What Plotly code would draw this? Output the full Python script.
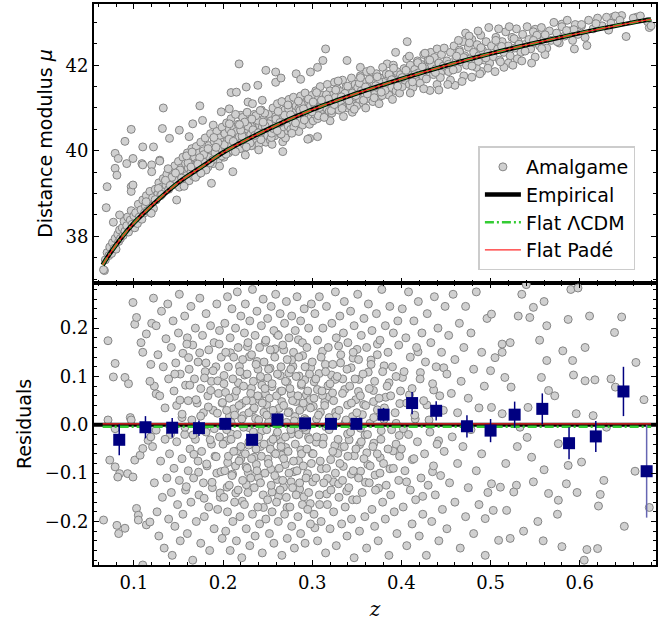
import plotly.graph_objects as go

# ---------------- data ----------------
curve_z = [0.065, 0.07, 0.08, 0.09, 0.10, 0.12, 0.15, 0.18, 0.20, 0.25, 0.30,
           0.35, 0.40, 0.45, 0.50, 0.55, 0.60, 0.65, 0.68]
mu_empirical = [37.33, 37.50, 37.80, 38.07, 38.31, 38.72, 39.26, 39.68, 39.96, 40.50,
                40.96, 41.34, 41.68, 41.99, 42.27, 42.52, 42.75, 42.96, 43.07]
mu_lcdm = [37.33, 37.50, 37.80, 38.07, 38.31, 38.72, 39.26, 39.68, 39.96, 40.50,
           40.96, 41.34, 41.68, 41.99, 42.27, 42.52, 42.75, 42.96, 43.07]
mu_pade = [37.33, 37.50, 37.80, 38.07, 38.31, 38.72, 39.26, 39.68, 39.96, 40.50,
           40.96, 41.34, 41.68, 41.99, 42.27, 42.52, 42.75, 42.96, 43.07]

resid_zero_z = [0.0553, 0.6855]
resid_zero_r = [0.0, 0.0]
resid_model_z = [0.065, 0.68]
resid_lcdm_r = [-0.004, -0.004]
resid_pade_r = [0.002, 0.002]

bin_z = [0.0836, 0.113, 0.143, 0.173, 0.2025, 0.2326, 0.261, 0.292, 0.321, 0.3495,
         0.380, 0.412, 0.439, 0.4735, 0.500, 0.527, 0.558, 0.588, 0.618, 0.649, 0.675]
bin_r = [-0.031, -0.005, -0.006, -0.007, 0.002, -0.031, 0.011, 0.003, 0.002, 0.002,
         0.021, 0.045, 0.029, -0.003, -0.012, 0.021, 0.033, -0.038, -0.024, 0.069, -0.096]
bin_err = [0.032, 0.023, 0.020, 0.016, 0.012, 0.011, 0.012, 0.011, 0.010, 0.011,
           0.014, 0.023, 0.020, 0.023, 0.024, 0.027, 0.032, 0.033, 0.032, 0.051, 0.096]

top_outliers = [
    (0.070, 39.16), (0.069, 38.67), (0.067, 37.20), (0.077, 38.33), (0.079, 39.59), (0.081, 39.43),
    (0.079, 39.94), (0.0825, 39.82), (0.092, 39.70), (0.090, 40.22), (0.097, 40.50), (0.097, 39.16),
    (0.099, 39.82), (0.084, 38.50), (0.110, 40.09), (0.122, 40.09), (0.109, 39.70), (0.120, 39.67),
    (0.129, 39.78), (0.132, 40.52), (0.133, 41.00), (0.140, 40.29), (0.151, 40.48), (0.162, 40.33),
    (0.174, 41.05), (0.177, 40.71), (0.166, 40.63), (0.189, 40.60), (0.198, 40.91), (0.207, 40.98),
    (0.209, 41.36), (0.215, 41.37), (0.218, 42.03), (0.226, 41.49), (0.228, 41.14), (0.233, 41.10),
    (0.239, 41.53), (0.244, 41.18), (0.248, 41.88), (0.259, 41.84), (0.259, 41.60), (0.265, 41.70),
    (0.282, 41.80), (0.287, 41.67), (0.298, 41.84), (0.306, 41.95), (0.315, 42.38), (0.312, 42.11),
    (0.267, 39.98), (0.211, 39.51), (0.187, 39.24), (0.306, 40.33), (0.297, 40.29), (0.4065, 42.55),
    (0.3935, 42.30), (0.339, 42.11), (0.354, 41.95), (0.384, 42.03), (0.498, 42.88), (0.550, 42.84),
    (0.580, 42.96), (0.602, 42.92), (0.637, 43.12), (0.647, 43.16), (0.6635, 43.12), (0.678, 42.88),
    (0.652, 42.67), (0.608, 42.46), (0.594, 42.38), (0.550, 42.19), (0.460, 41.53), (0.432, 41.41),
    (0.097, 39.05), (0.099, 39.20), (0.120, 39.51), (0.129, 39.76), (0.110, 39.67), (0.148, 38.85),
    (0.295, 40.27), (0.267, 40.21), (0.220, 40.83),
]

top_band_a = [
    (0.066, 37.22), (0.068, 37.45), (0.070, 37.62), (0.072, 37.55), (0.073, 37.75), (0.075, 37.60),
    (0.076, 37.85), (0.078, 37.72), (0.079, 37.95), (0.080, 37.70), (0.082, 38.05), (0.083, 37.88),
    (0.084, 38.15), (0.085, 37.95), (0.087, 38.20), (0.088, 38.02), (0.089, 38.35), (0.090, 38.12),
    (0.092, 38.25), (0.093, 38.45), (0.094, 38.10), (0.096, 38.38), (0.097, 38.60), (0.098, 38.28),
    (0.100, 38.48), (0.101, 38.20),
    (0.102, 38.55), (0.104, 38.30), (0.105, 38.75), (0.106, 38.45), (0.108, 38.62), (0.109, 38.40),
    (0.110, 38.85), (0.112, 38.55), (0.113, 38.70), (0.114, 38.95), (0.115, 38.60), (0.117, 38.80),
    (0.118, 39.05), (0.119, 38.70), (0.121, 38.90), (0.122, 38.65), (0.124, 39.10), (0.125, 38.85),
    (0.127, 39.00), (0.128, 39.25), (0.130, 38.95), (0.131, 39.15), (0.133, 39.35), (0.134, 39.05),
    (0.136, 39.20), (0.137, 39.45), (0.139, 39.10), (0.140, 39.30), (0.142, 39.55), (0.143, 39.20),
    (0.145, 39.40), (0.146, 39.65), (0.148, 39.30), (0.149, 39.50),
    (0.150, 39.75), (0.151, 39.15), (0.152, 39.45), (0.153, 39.60), (0.154, 39.35), (0.155, 39.85),
    (0.156, 39.50), (0.157, 39.25), (0.158, 39.70), (0.159, 39.42), (0.160, 39.95), (0.161, 39.60),
    (0.162, 39.30), (0.163, 39.75), (0.164, 39.50), (0.165, 40.05), (0.166, 39.65), (0.167, 39.40),
    (0.168, 39.85), (0.169, 39.58), (0.170, 40.10), (0.171, 39.72), (0.172, 39.45), (0.173, 39.95),
    (0.174, 39.65), (0.175, 40.20), (0.176, 39.80), (0.177, 39.55), (0.178, 40.00), (0.179, 39.75),
    (0.180, 40.30), (0.182, 39.90), (0.183, 39.62), (0.184, 40.12), (0.185, 39.85), (0.186, 40.40),
    (0.188, 40.00), (0.189, 39.70), (0.190, 40.22), (0.191, 39.95), (0.193, 40.45), (0.194, 40.10),
    (0.195, 39.80), (0.196, 40.30), (0.198, 40.05), (0.199, 40.55),
]
top_band_b = [
    (0.200, 40.20), (0.201, 39.85), (0.202, 40.40), (0.203, 40.05), (0.204, 40.65), (0.205, 40.25),
    (0.206, 39.95), (0.207, 40.50), (0.208, 40.15), (0.209, 40.75), (0.210, 40.35), (0.211, 40.00),
    (0.212, 40.55), (0.213, 40.25), (0.214, 40.85), (0.215, 40.45), (0.216, 40.10), (0.217, 40.62),
    (0.218, 40.32), (0.219, 40.05), (0.220, 40.48), (0.221, 40.22), (0.222, 40.78), (0.223, 40.40),
    (0.224, 40.15), (0.225, 40.60), (0.226, 40.30), (0.227, 40.90), (0.228, 40.50), (0.229, 40.20),
    (0.230, 40.70), (0.231, 40.38), (0.232, 40.12), (0.233, 40.58), (0.234, 40.30), (0.235, 40.85),
    (0.236, 40.48), (0.237, 40.22), (0.238, 40.68), (0.239, 40.42), (0.240, 40.15), (0.241, 40.60),
    (0.242, 40.35), (0.243, 40.95), (0.244, 40.55), (0.245, 40.28), (0.246, 40.75), (0.247, 40.45),
    (0.248, 40.20), (0.249, 40.65),
    (0.250, 40.35), (0.251, 40.85), (0.252, 40.55), (0.253, 40.25), (0.254, 40.70), (0.255, 40.45),
    (0.256, 41.00), (0.257, 40.62), (0.258, 40.35), (0.259, 40.80), (0.260, 40.52), (0.261, 41.10),
    (0.262, 40.72), (0.263, 40.42), (0.264, 40.90), (0.265, 40.60), (0.266, 41.15), (0.267, 40.78),
    (0.268, 40.50), (0.269, 40.95), (0.270, 40.68), (0.271, 40.40), (0.272, 40.85), (0.273, 40.58),
    (0.274, 41.20), (0.275, 40.80), (0.276, 40.50), (0.277, 41.00), (0.278, 40.70), (0.279, 41.25),
    (0.280, 40.90), (0.281, 40.60), (0.282, 41.05), (0.283, 40.78), (0.284, 40.52), (0.285, 40.98),
    (0.286, 40.72), (0.287, 41.28), (0.288, 40.88), (0.289, 40.60), (0.290, 41.10), (0.291, 40.80),
    (0.292, 41.35), (0.293, 40.98), (0.294, 40.70), (0.295, 41.15), (0.296, 40.88), (0.297, 40.62),
    (0.298, 41.05), (0.299, 40.80),
]
top_band_c = [
    (0.300, 41.30), (0.301, 40.70), (0.302, 41.10), (0.303, 40.85), (0.304, 41.40), (0.305, 41.00),
    (0.306, 40.75), (0.307, 41.22), (0.308, 40.95), (0.309, 41.50), (0.310, 41.12), (0.311, 40.85),
    (0.312, 41.30), (0.313, 41.05), (0.314, 40.80), (0.315, 41.25), (0.316, 41.00), (0.317, 41.55),
    (0.318, 41.18), (0.319, 40.92), (0.320, 41.40), (0.321, 41.10), (0.322, 40.88), (0.323, 41.30),
    (0.324, 41.05), (0.325, 41.60), (0.326, 41.25), (0.327, 40.98), (0.328, 41.45), (0.329, 41.15),
    (0.330, 40.95), (0.332, 41.38), (0.333, 41.10), (0.334, 41.65), (0.335, 41.30), (0.336, 41.02),
    (0.338, 41.50), (0.339, 41.20), (0.340, 41.00), (0.341, 41.42), (0.343, 41.15), (0.344, 41.70),
    (0.345, 41.35), (0.347, 41.08), (0.348, 41.55), (0.349, 41.25),
    (0.350, 41.05), (0.351, 41.48), (0.353, 41.20), (0.354, 41.75), (0.355, 41.40), (0.357, 41.12),
    (0.358, 41.60), (0.359, 41.30), (0.361, 41.85), (0.362, 41.50), (0.364, 41.22), (0.365, 41.68),
    (0.366, 41.40), (0.368, 41.15), (0.369, 41.58), (0.370, 41.32), (0.372, 41.80), (0.373, 41.48),
    (0.375, 41.25), (0.376, 41.70), (0.378, 41.42), (0.379, 41.95), (0.380, 41.60), (0.382, 41.35),
    (0.383, 41.80), (0.385, 41.52), (0.386, 41.30), (0.388, 41.72), (0.389, 41.48), (0.391, 42.00),
    (0.392, 41.65), (0.394, 41.40), (0.395, 41.85), (0.397, 41.58), (0.398, 41.35), (0.399, 41.78),
    (0.320, 40.70), (0.335, 40.80), (0.345, 40.90), (0.360, 41.00), (0.375, 41.10), (0.390, 41.20),
    (0.255, 40.15), (0.270, 40.30), (0.285, 40.45), (0.240, 40.02), (0.225, 39.90),
]
top_band_d = [
    (0.401, 41.50), (0.403, 41.92), (0.404, 41.65), (0.406, 42.15), (0.407, 41.80), (0.409, 41.55),
    (0.410, 42.00), (0.412, 41.72), (0.413, 41.48), (0.415, 41.90), (0.416, 41.65), (0.418, 42.10),
    (0.419, 41.82), (0.421, 41.58), (0.422, 42.02), (0.424, 41.75), (0.425, 42.25), (0.427, 41.92),
    (0.428, 41.68), (0.430, 42.12), (0.431, 41.85), (0.433, 42.30), (0.434, 42.00), (0.436, 41.78),
    (0.437, 42.18), (0.439, 41.92), (0.440, 42.38), (0.442, 42.05), (0.444, 41.82), (0.445, 42.25),
    (0.447, 41.98), (0.448, 42.40),
    (0.451, 42.10), (0.453, 41.85), (0.455, 42.30), (0.457, 42.00), (0.459, 42.45), (0.461, 42.15),
    (0.463, 41.92), (0.465, 42.35), (0.467, 42.08), (0.469, 42.55), (0.471, 42.22), (0.473, 42.00),
    (0.475, 42.42), (0.477, 42.15), (0.479, 42.60), (0.481, 42.30), (0.483, 42.05), (0.485, 42.48),
    (0.487, 42.22), (0.489, 42.70), (0.491, 42.35), (0.493, 42.12), (0.495, 42.55), (0.497, 42.28),
    (0.499, 42.05),
    (0.501, 42.45), (0.503, 42.20), (0.506, 42.65), (0.508, 42.38), (0.510, 42.12), (0.513, 42.55),
    (0.515, 42.30), (0.517, 42.78), (0.520, 42.45), (0.522, 42.22), (0.524, 42.65), (0.527, 42.40),
    (0.529, 42.85), (0.531, 42.55), (0.534, 42.30), (0.536, 42.72), (0.538, 42.48), (0.541, 42.90),
    (0.543, 42.60), (0.545, 42.38), (0.548, 42.78), (0.549, 42.52),
    (0.552, 42.70), (0.555, 42.45), (0.557, 42.88), (0.560, 42.62), (0.563, 42.40), (0.566, 42.80),
    (0.568, 42.58), (0.571, 43.00), (0.574, 42.75), (0.577, 42.52), (0.580, 42.90), (0.583, 42.68),
    (0.586, 43.05), (0.589, 42.80), (0.592, 42.58), (0.595, 42.95), (0.598, 42.72),
    (0.602, 42.95), (0.606, 42.65), (0.610, 43.05), (0.615, 42.85), (0.620, 43.10), (0.625, 42.92),
    (0.630, 43.12), (0.635, 42.98), (0.640, 43.15), (0.645, 43.05), (0.660, 43.10), (0.668, 43.15),
    (0.676, 43.02), (0.680, 42.92),
    (0.410, 41.35), (0.425, 41.45), (0.440, 41.55), (0.455, 41.65), (0.470, 41.75), (0.490, 41.85),
    (0.520, 42.05), (0.530, 42.15),
    (0.505, 41.85), (0.515, 41.95), (0.525, 42.00), (0.488, 41.80), (0.479, 41.72), (0.535, 42.10),
    (0.546, 42.05), (0.561, 42.25), (0.468, 41.62), (0.452, 41.55), (0.442, 41.42), (0.484, 41.95),
    (0.497, 41.93), (0.511, 42.08), (0.472, 42.75), (0.486, 42.80), (0.509, 42.85), (0.521, 42.90),
    (0.464, 42.58), (0.476, 42.68),
]
top_band_e = [
    (0.1137, 38.81), (0.2318, 40.12), (0.1783, 39.91), (0.3264, 41.42), (0.2541, 40.31), (0.1426, 39.38),
    (0.2877, 41.09), (0.3912, 41.93), (0.2093, 40.41), (0.1608, 39.72), (0.3427, 41.05), (0.2736, 40.97),
    (0.4183, 42.06), (0.1961, 39.64), (0.3068, 40.82), (0.2389, 40.71), (0.1275, 39.12), (0.3641, 41.67),
    (0.2652, 40.39), (0.4437, 41.71), (0.1832, 40.05), (0.3159, 41.31), (0.2214, 40.34), (0.2958, 41.21),
    (0.1519, 39.55), (0.3783, 41.29), (0.2467, 40.88), (0.4652, 42.31), (0.2012, 40.14), (0.3336, 40.99),
    (0.2794, 40.55), (0.1692, 39.38), (0.3528, 41.58), (0.2281, 40.57), (0.4051, 41.88), (0.1354, 39.31),
    (0.3011, 41.14), (0.2593, 40.74), (0.1887, 39.79), (0.3695, 41.24), (0.2425, 40.26), (0.4318, 42.12),
    (0.2139, 39.98), (0.3215, 40.94), (0.2845, 41.16), (0.1563, 39.17), (0.3862, 41.78), (0.2336, 40.49),
    (0.4792, 41.98), (0.1738, 39.84), (0.3398, 41.51), (0.2689, 40.83), (0.1195, 38.54), (0.3134, 40.78),
    (0.2512, 40.63), (0.4125, 41.61), (0.1943, 40.19), (0.3576, 41.18), (0.2243, 40.67), (0.2912, 40.72),
    (0.1467, 39.48), (0.3746, 41.62), (0.2618, 40.92), (0.4526, 42.02), (0.2067, 40.27), (0.3291, 41.63),
    (0.2771, 40.41), (0.1641, 39.62), (0.3472, 40.97), (0.2368, 40.82), (0.3958, 41.51), (0.1312, 38.98),
    (0.3049, 41.36), (0.2546, 40.41), (0.1809, 39.55), (0.3617, 41.33), (0.2198, 40.48), (0.4234, 41.96),
    (0.1897, 40.31), (0.3182, 41.21), (0.2863, 40.94), (0.1591, 39.88), (0.3817, 41.41), (0.2472, 40.58),
    (0.4698, 42.18), (0.2115, 40.22), (0.3367, 41.34), (0.2728, 41.07), (0.1408, 39.19), (0.3541, 41.71),
    (0.2304, 40.18), (0.4089, 42.21), (0.1752, 39.48), (0.2997, 40.91), (0.2639, 40.66), (0.1986, 39.88),
    (0.3712, 41.52), (0.2417, 40.94), (0.4381, 41.83), (0.2184, 40.61), (0.3248, 41.08), (0.2813, 40.65),
    (0.1653, 39.97), (0.3489, 41.29), (0.2357, 40.36), (0.3891, 41.66), (0.1239, 38.86), (0.3103, 41.18),
    (0.2563, 40.52), (0.1856, 39.72), (0.3654, 41.88), (0.2261, 40.09), (0.4265, 42.28), (0.2034, 39.92),
    (0.3327, 41.26), (0.2902, 40.98), (0.1536, 39.36), (0.3774, 41.37), (0.2449, 40.67), (0.4581, 41.89),
    (0.2071, 40.63), (0.3412, 41.17), (0.2757, 40.84), (0.1717, 39.69), (0.3598, 41.49), (0.2323, 40.74),
    (0.4009, 41.71), (0.1384, 39.58), (0.3082, 41.01), (0.2608, 40.47), (0.1921, 40.08), (0.3729, 41.73),
    (0.2396, 40.42), (0.4152, 41.78), (0.5123, 42.44), (0.5387, 42.33), (0.5612, 42.71), (0.4891, 42.41),
    (0.5264, 42.62), (0.5748, 42.55), (0.4947, 42.17), (0.5481, 42.58), (0.5935, 42.83), (0.6182, 42.97),
    (0.6324, 42.82), (0.4763, 42.52), (0.5059, 42.58), (0.5319, 42.49), (0.4618, 42.21), (0.4863, 42.09),
    (0.5573, 42.39), (0.5852, 42.81),
]

res_lowz = [
    (0.071, 0.174), (0.079, 0.127), (0.077, 0.099), (0.090, 0.098), (0.094, 0.085), (0.099, 0.253),
    (0.101, 0.208), (0.103, 0.222), (0.108, 0.170), (0.110, 0.150), (0.114, 0.188), (0.120, 0.210),
    (0.119, 0.125), (0.123, 0.080), (0.125, 0.064), (0.118, 0.090), (0.096, 0.015), (0.097, 0.010),
    (0.071, 0.010), (0.079, -0.008), (0.073, -0.073), (0.079, -0.087), (0.084, -0.101), (0.082, -0.108),
    (0.093, -0.101), (0.099, -0.108), (0.101, -0.073), (0.107, -0.063), (0.110, -0.049), (0.116, -0.032),
    (0.119, -0.025), (0.125, -0.011), (0.081, -0.208), (0.090, -0.214), (0.083, -0.225), (0.103, -0.173),
    (0.105, -0.187), (0.105, -0.197), (0.114, -0.207), (0.118, -0.201), (0.066, -0.197), (0.073, -0.300),
    (0.110, -0.290),
]
res_z12 = [
    (0.122, 0.262), (0.125, 0.205), (0.127, 0.145), (0.129, 0.060), (0.131, 0.235), (0.133, 0.120),
    (0.135, 0.035), (0.136, 0.178), (0.138, 0.250), (0.139, 0.095), (0.141, -0.020), (0.142, 0.160),
    (0.144, 0.215), (0.145, 0.070), (0.147, 0.128), (0.148, 0.040), (0.150, 0.190), (0.151, 0.270),
    (0.152, 0.105), (0.154, 0.015), (0.155, 0.148), (0.157, 0.225), (0.158, 0.082), (0.160, 0.180),
    (0.161, 0.050), (0.162, 0.115), (0.164, 0.245), (0.165, 0.010), (0.166, 0.165), (0.168, 0.095),
    (0.169, 0.200), (0.171, 0.045), (0.172, 0.130), (0.174, 0.262), (0.175, 0.075), (0.177, 0.185),
    (0.178, 0.025), (0.180, 0.110), (0.181, 0.230), (0.183, 0.060), (0.184, 0.155), (0.186, 0.205),
    (0.187, 0.090), (0.189, 0.030), (0.190, 0.170), (0.192, 0.120), (0.193, 0.250), (0.195, 0.065),
    (0.196, 0.195), (0.198, 0.140), (0.199, 0.045),
    (0.121, -0.045), (0.123, -0.120), (0.126, -0.180), (0.128, -0.230), (0.130, -0.075), (0.132, -0.150),
    (0.134, -0.255), (0.135, -0.030), (0.137, -0.110), (0.139, -0.195), (0.140, -0.060), (0.142, -0.140),
    (0.143, -0.270), (0.145, -0.090), (0.146, -0.210), (0.148, -0.035), (0.149, -0.165), (0.151, -0.115),
    (0.152, -0.240), (0.154, -0.070), (0.155, -0.185), (0.157, -0.020), (0.158, -0.135), (0.160, -0.225),
    (0.161, -0.095), (0.163, -0.050), (0.164, -0.160), (0.166, -0.280), (0.167, -0.110), (0.169, -0.030),
    (0.170, -0.200), (0.172, -0.075), (0.173, -0.145), (0.175, -0.245), (0.176, -0.055), (0.178, -0.120),
    (0.179, -0.190), (0.181, -0.015), (0.182, -0.085), (0.184, -0.170), (0.185, -0.260), (0.187, -0.040),
    (0.188, -0.130), (0.190, -0.215), (0.191, -0.065), (0.193, -0.100), (0.194, -0.175), (0.196, -0.025),
    (0.197, -0.150), (0.199, -0.235),
]
res_z23_pos = [
    (0.201, 0.085), (0.202, 0.210), (0.203, 0.150), (0.204, 0.030), (0.205, 0.265), (0.206, 0.120),
    (0.207, 0.055), (0.208, 0.180), (0.209, 0.005), (0.210, 0.240), (0.211, 0.095), (0.212, 0.140),
    (0.213, 0.020), (0.214, 0.200), (0.215, 0.070), (0.216, 0.275), (0.217, 0.160), (0.218, 0.040),
    (0.219, 0.110), (0.220, 0.225), (0.221, 0.012), (0.222, 0.135), (0.223, 0.080), (0.224, 0.190),
    (0.225, 0.250), (0.226, 0.050), (0.227, 0.105), (0.228, 0.170), (0.229, 0.025), (0.230, 0.215),
    (0.231, 0.065), (0.232, 0.145), (0.233, 0.280), (0.234, 0.090), (0.235, 0.035), (0.236, 0.185),
    (0.237, 0.125), (0.238, 0.235), (0.239, 0.060), (0.240, 0.010), (0.241, 0.160), (0.242, 0.100),
    (0.243, 0.205), (0.244, 0.045), (0.245, 0.260), (0.246, 0.130), (0.247, 0.075), (0.248, 0.175),
    (0.249, 0.020), (0.250, 0.220), (0.251, 0.115), (0.252, 0.055), (0.253, 0.155), (0.254, 0.245),
    (0.255, 0.085), (0.256, 0.030), (0.257, 0.195), (0.258, 0.140), (0.259, 0.270), (0.260, 0.060),
    (0.261, 0.105), (0.262, 0.185), (0.263, 0.015), (0.264, 0.230), (0.265, 0.120), (0.266, 0.070),
    (0.267, 0.165), (0.268, 0.040), (0.269, 0.210), (0.270, 0.090), (0.271, 0.255), (0.272, 0.135),
    (0.273, 0.025), (0.274, 0.180), (0.275, 0.075), (0.276, 0.115), (0.277, 0.225), (0.278, 0.050),
    (0.279, 0.150), (0.280, 0.008), (0.281, 0.195), (0.282, 0.100), (0.283, 0.265), (0.284, 0.060),
    (0.285, 0.140), (0.286, 0.030), (0.287, 0.215), (0.288, 0.085), (0.289, 0.170), (0.290, 0.045),
    (0.291, 0.240), (0.292, 0.120), (0.293, 0.010), (0.294, 0.160), (0.295, 0.070), (0.296, 0.200),
    (0.297, 0.105), (0.298, 0.035), (0.299, 0.250),
]
res_z23_neg = [
    (0.200, -0.040), (0.201, -0.150), (0.202, -0.095), (0.203, -0.220), (0.204, -0.010), (0.205, -0.180),
    (0.206, -0.065), (0.207, -0.125), (0.208, -0.260), (0.209, -0.030), (0.210, -0.105), (0.211, -0.200),
    (0.212, -0.055), (0.213, -0.160), (0.214, -0.085), (0.215, -0.240), (0.216, -0.020), (0.217, -0.135),
    (0.218, -0.075), (0.219, -0.190), (0.220, -0.045), (0.221, -0.275), (0.222, -0.115), (0.223, -0.005),
    (0.224, -0.165), (0.225, -0.060), (0.226, -0.215), (0.227, -0.090), (0.228, -0.140), (0.229, -0.035),
    (0.230, -0.250), (0.231, -0.110), (0.232, -0.070), (0.233, -0.185), (0.234, -0.015), (0.235, -0.130),
    (0.236, -0.230), (0.237, -0.050), (0.238, -0.095), (0.239, -0.170), (0.240, -0.025), (0.241, -0.205),
    (0.242, -0.120), (0.243, -0.065), (0.244, -0.265), (0.245, -0.145), (0.246, -0.040), (0.247, -0.100),
    (0.248, -0.195), (0.249, -0.010), (0.250, -0.155), (0.251, -0.080), (0.252, -0.225), (0.253, -0.050),
    (0.254, -0.125), (0.255, -0.180), (0.256, -0.030), (0.257, -0.245), (0.258, -0.105), (0.259, -0.060),
    (0.260, -0.160), (0.261, -0.015), (0.262, -0.200), (0.263, -0.090), (0.264, -0.135), (0.265, -0.045),
    (0.266, -0.270), (0.267, -0.115), (0.268, -0.070), (0.269, -0.185), (0.270, -0.025), (0.271, -0.150),
    (0.272, -0.235), (0.273, -0.055), (0.274, -0.100), (0.275, -0.170), (0.276, -0.010), (0.277, -0.210),
    (0.278, -0.130), (0.279, -0.075), (0.280, -0.255), (0.281, -0.040), (0.282, -0.145), (0.283, -0.095),
    (0.284, -0.190), (0.285, -0.020), (0.286, -0.120), (0.287, -0.225), (0.288, -0.060), (0.289, -0.165),
    (0.290, -0.085), (0.291, -0.005), (0.292, -0.245), (0.293, -0.110), (0.294, -0.050), (0.295, -0.175),
    (0.296, -0.140), (0.297, -0.030), (0.298, -0.205), (0.299, -0.080),
]
res_z34 = [
    (0.300, 0.130), (0.302, 0.055), (0.303, 0.230), (0.304, 0.095), (0.306, 0.175), (0.307, 0.020),
    (0.308, 0.265), (0.310, 0.140), (0.311, 0.070), (0.312, 0.200), (0.314, 0.040), (0.315, 0.110),
    (0.316, 0.245), (0.318, 0.160), (0.319, 0.015), (0.320, 0.085), (0.322, 0.210), (0.323, 0.125),
    (0.324, 0.050), (0.326, 0.275), (0.327, 0.180), (0.328, 0.100), (0.330, 0.030), (0.331, 0.225),
    (0.332, 0.145), (0.334, 0.065), (0.335, 0.190), (0.336, 0.255), (0.338, 0.010), (0.339, 0.115),
    (0.340, 0.170), (0.342, 0.080), (0.343, 0.235), (0.344, 0.045), (0.346, 0.150), (0.347, 0.205),
    (0.348, 0.095), (0.350, 0.025), (0.351, 0.270), (0.352, 0.135), (0.354, 0.060), (0.355, 0.185),
    (0.357, 0.105), (0.358, 0.220), (0.360, 0.040), (0.361, 0.160), (0.363, 0.250), (0.364, 0.075),
    (0.366, 0.125), (0.367, 0.195), (0.369, 0.015), (0.370, 0.090), (0.372, 0.230), (0.373, 0.145),
    (0.375, 0.055), (0.376, 0.175), (0.378, 0.280), (0.379, 0.110), (0.381, 0.035), (0.382, 0.205),
    (0.384, 0.080), (0.385, 0.150), (0.387, 0.245), (0.388, 0.060), (0.390, 0.120), (0.391, 0.190),
    (0.393, 0.025), (0.394, 0.100), (0.396, 0.215), (0.397, 0.165), (0.399, 0.070),
    (0.301, -0.060), (0.302, -0.185), (0.304, -0.110), (0.305, -0.025), (0.306, -0.240), (0.308, -0.145),
    (0.309, -0.075), (0.310, -0.200), (0.312, -0.040), (0.313, -0.120), (0.315, -0.265), (0.316, -0.090),
    (0.317, -0.165), (0.319, -0.010), (0.320, -0.215), (0.321, -0.135), (0.323, -0.055), (0.324, -0.180),
    (0.326, -0.100), (0.327, -0.250), (0.329, -0.030), (0.330, -0.150), (0.331, -0.080), (0.333, -0.205),
    (0.334, -0.115), (0.336, -0.045), (0.337, -0.170), (0.339, -0.230), (0.340, -0.065), (0.341, -0.130),
    (0.343, -0.015), (0.344, -0.195), (0.346, -0.095), (0.347, -0.275), (0.349, -0.050), (0.350, -0.155),
    (0.352, -0.110), (0.353, -0.220), (0.355, -0.035), (0.356, -0.140), (0.358, -0.070), (0.359, -0.190),
    (0.361, -0.255), (0.362, -0.020), (0.364, -0.120), (0.365, -0.085), (0.367, -0.175), (0.368, -0.045),
    (0.370, -0.210), (0.371, -0.135), (0.373, -0.060), (0.374, -0.240), (0.376, -0.100), (0.377, -0.030),
    (0.379, -0.160), (0.380, -0.080), (0.382, -0.195), (0.383, -0.125), (0.385, -0.050), (0.386, -0.270),
    (0.388, -0.145), (0.389, -0.010), (0.391, -0.090), (0.392, -0.180), (0.394, -0.040), (0.395, -0.225),
    (0.397, -0.115), (0.398, -0.065),
]
res_z45 = [
    (0.401, 0.240), (0.403, 0.110), (0.405, 0.180), (0.406, 0.045), (0.408, 0.275), (0.410, 0.140),
    (0.412, 0.075), (0.414, 0.215), (0.415, 0.020), (0.417, 0.160), (0.419, 0.255), (0.421, 0.095),
    (0.423, 0.190), (0.425, 0.050), (0.427, 0.130), (0.429, 0.230), (0.431, 0.010), (0.433, 0.170),
    (0.435, 0.085), (0.437, 0.265), (0.439, 0.120), (0.441, 0.200), (0.443, 0.060), (0.445, 0.150),
    (0.447, 0.030), (0.449, 0.245), (0.451, 0.105), (0.453, 0.185), (0.456, 0.065), (0.458, 0.270),
    (0.460, 0.135), (0.463, 0.025), (0.465, 0.210), (0.467, 0.090), (0.470, 0.160), (0.472, 0.245),
    (0.475, 0.055), (0.478, 0.190), (0.481, 0.115), (0.484, 0.275), (0.487, 0.035), (0.490, 0.150),
    (0.493, 0.080), (0.496, 0.220),
    (0.400, -0.050), (0.402, -0.170), (0.404, -0.095), (0.406, -0.250), (0.408, -0.020), (0.410, -0.135),
    (0.412, -0.205), (0.414, -0.070), (0.416, -0.155), (0.418, -0.035), (0.420, -0.230), (0.422, -0.110),
    (0.424, -0.185), (0.426, -0.060), (0.428, -0.270), (0.430, -0.125), (0.432, -0.015), (0.434, -0.200),
    (0.436, -0.085), (0.438, -0.145), (0.440, -0.040), (0.442, -0.240), (0.444, -0.105), (0.446, -0.175),
    (0.448, -0.055), (0.451, -0.215), (0.454, -0.120), (0.457, -0.025), (0.460, -0.160), (0.463, -0.080),
    (0.466, -0.255), (0.469, -0.045), (0.472, -0.190), (0.475, -0.130), (0.478, -0.010), (0.481, -0.225),
    (0.484, -0.095), (0.487, -0.165), (0.490, -0.060), (0.494, -0.270), (0.497, -0.140),
]
res_highz = [
    (0.501, 0.229), (0.522, 0.170), (0.513, 0.150), (0.531, 0.225), (0.544, 0.222), (0.548, 0.243),
    (0.563, 0.205), (0.555, 0.175), (0.563, 0.133), (0.587, 0.218), (0.611, 0.225), (0.581, 0.153),
    (0.593, 0.103), (0.606, 0.091), (0.617, 0.093), (0.606, 0.160), (0.635, 0.095), (0.639, 0.191),
    (0.647, 0.223), (0.663, 0.129), (0.672, 0.052), (0.640, 0.078), (0.596, 0.023), (0.615, 0.019),
    (0.630, -0.005), (0.576, -0.039), (0.587, -0.084), (0.602, -0.077), (0.627, -0.115), (0.662, -0.096),
    (0.678, -0.171), (0.623, -0.144), (0.621, -0.168), (0.576, -0.156), (0.585, -0.122), (0.560, -0.093),
    (0.565, -0.142), (0.580, -0.252), (0.608, -0.258), (0.620, -0.256), (0.546, -0.067), (0.548, -0.118),
    (0.529, -0.125), (0.526, -0.139), (0.518, -0.177), (0.522, -0.235), (0.511, -0.129), (0.501, -0.122),
    (0.494, -0.194), (0.503, -0.177), (0.509, -0.239), (0.542, 0.036), (0.533, -0.005), (0.541, -0.026),
    (0.565, 0.071), (0.572, 0.060), (0.592, 0.133), (0.557, 0.098), (0.523, 0.078), (0.516, 0.098),
    (0.513, 0.023), (0.501, 0.036), (0.500, 0.112), (0.505, 0.139), (0.513, 0.167), (0.535, 0.270),
    (0.560, 0.255), (0.590, 0.280), (0.540, 0.290), (0.598, 0.283), (0.553, -0.200), (0.537, -0.220),
    (0.559, -0.240), (0.575, -0.185), (0.530, -0.045), (0.517, -0.080), (0.597, -0.140), (0.650, -0.210),
    (0.605, -0.280),
]
res_core = [
    (0.2137, 0.032), (0.3318, -0.047), (0.1862, 0.071), (0.2764, -0.118), (0.3049, 0.012), (0.2411, 0.094),
    (0.3592, -0.021), (0.1673, -0.061), (0.2893, 0.143), (0.2258, -0.087), (0.3824, 0.057), (0.1541, 0.022),
    (0.2649, -0.035), (0.3177, 0.081), (0.2046, -0.129), (0.3436, 0.118), (0.2512, 0.006), (0.4123, -0.072),
    (0.1957, 0.167), (0.2978, -0.163), (0.2331, 0.049), (0.3705, -0.104), (0.2719, 0.088), (0.1788, -0.152),
    (0.3263, 0.026), (0.2184, 0.121), (0.3941, 0.003), (0.2577, -0.058), (0.3102, -0.091), (0.1459, 0.105),
    (0.2806, 0.017), (0.3518, 0.069), (0.2093, -0.019), (0.3387, -0.137), (0.2453, -0.171), (0.4286, 0.041),
    (0.1902, -0.008), (0.2935, 0.062), (0.3659, 0.134), (0.2287, -0.042), (0.3029, -0.213), (0.1614, 0.139),
    (0.2681, 0.155), (0.3472, -0.064), (0.2365, 0.013), (0.4012, 0.098), (0.1835, 0.037), (0.3141, 0.047),
    (0.2548, 0.079), (0.2847, -0.074), (0.3296, 0.163), (0.2128, 0.059), (0.3774, -0.012), (0.1726, -0.098),
    (0.2622, -0.148), (0.3563, 0.021), (0.2397, -0.109), (0.4417, -0.033), (0.2011, 0.102), (0.2958, -0.026),
    (0.3207, -0.072), (0.2489, 0.042), (0.1588, -0.128), (0.3861, 0.087), (0.2741, 0.027), (0.3368, 0.004),
    (0.2216, -0.158), (0.3077, 0.106), (0.2603, 0.188), (0.1923, -0.066), (0.3624, -0.082), (0.2319, 0.076),
    (0.2872, -0.052), (0.4155, 0.012), (0.3238, -0.118), (0.2062, 0.008), (0.3489, 0.052), (0.2536, -0.092),
    (0.1809, 0.128), (0.2916, 0.093), (0.3731, 0.031), (0.2432, -0.013), (0.3153, -0.004), (0.2158, -0.054),
    (0.4362, 0.072), (0.2697, -0.082), (0.3342, 0.095), (0.1994, 0.046), (0.2783, 0.121), (0.3597, -0.119),
    (0.2274, 0.162), (0.3012, 0.038), (0.2569, 0.022), (0.3908, -0.054), (0.1749, 0.018), (0.2826, -0.006),
    (0.3414, -0.031), (0.2381, 0.131), (0.3189, 0.058), (0.2107, -0.102), (0.3687, 0.071), (0.2658, 0.048),
    (0.4058, -0.118), (0.1877, -0.119), (0.2998, -0.059), (0.3271, 0.018), (0.2473, 0.171), (0.3542, -0.096),
    (0.2229, 0.019), (0.2764, 0.063), (0.1627, 0.082), (0.3806, 0.122), (0.3115, 0.152), (0.2348, -0.067),
    (0.2889, 0.036), (0.3452, -0.155), (0.2041, -0.033), (0.4239, -0.148), (0.2594, -0.024), (0.3253, -0.043),
    (0.1941, 0.091), (0.2717, -0.171), (0.3648, 0.003), (0.2293, -0.006), (0.3058, 0.073), (0.2527, 0.117),
    (0.3982, 0.044), (0.1698, 0.052), (0.2845, 0.176), (0.3397, 0.041), (0.2171, 0.087), (0.3762, -0.068),
    (0.2419, -0.045), (0.3126, -0.027), (0.2641, 0.102), (0.1856, -0.031), (0.2947, -0.101), (0.3524, 0.094),
    (0.2083, 0.149), (0.3318, 0.128), (0.2476, 0.064), (0.4475, 0.118), (0.2762, -0.019), (0.1573, -0.005),
    (0.3006, -0.118), (0.2242, 0.103), (0.3691, -0.038), (0.2608, -0.113), (0.3216, 0.103), (0.1968, -0.141),
    (0.2878, 0.082), (0.3452, 0.017), (0.2336, 0.031), (0.4091, 0.062), (0.2712, 0.005), (0.3163, -0.143),
    (0.2117, 0.033), (0.3577, 0.042), (0.2503, -0.071), (0.1792, 0.097), (0.2983, 0.118), (0.3349, -0.086),
    (0.2261, -0.124), (0.3872, -0.091), (0.2657, -0.063), (0.3092, 0.026), (0.1663, -0.021), (0.2794, -0.097),
    (0.3628, 0.109), (0.2392, 0.115), (0.4213, 0.108), (0.2028, 0.067), (0.3228, 0.066), (0.2549, -0.139),
    (0.2915, 0.013), (0.3731, 0.167), (0.2198, -0.071), (0.3438, -0.102), (0.1889, 0.112), (0.2627, 0.034),
    (0.3045, -0.036), (0.2436, 0.082), (0.3976, -0.022), (0.2859, -0.133), (0.3286, -0.059), (0.2143, -0.141),
    (0.3503, 0.156), (0.2582, 0.157), (0.1517, 0.051), (0.2738, 0.107), (0.3171, -0.111), (0.2315, -0.028),
    (0.3805, 0.011), (0.2977, 0.052), (0.3364, 0.073), (0.2072, 0.018), (0.2678, -0.129), (0.3612, -0.058),
    (0.2458, 0.026), (0.4349, -0.097), (0.1937, 0.024), (0.3022, 0.089), (0.2296, 0.141), (0.3541, -0.007),
    (0.2815, 0.048), (0.3147, 0.125), (0.2534, -0.036), (0.1738, 0.149), (0.2906, -0.149), (0.3459, 0.138),
    (0.2211, 0.044), (0.3688, 0.048), (0.2643, 0.069), (0.3258, 0.094), (0.1816, -0.081), (0.2769, 0.134),
    (0.4022, -0.008), (0.2374, -0.082), (0.3083, -0.165), (0.2501, 0.097), (0.3397, -0.019), (0.2052, -0.078),
    (0.2931, -0.011), (0.3744, -0.131), (0.2283, -0.099), (0.3201, 0.007), (0.2596, 0.008), (0.1594, 0.167),
    (0.2852, 0.101), (0.3532, -0.041), (0.2409, 0.052), (0.4186, 0.151), (0.1977, -0.097), (0.3116, 0.061),
    (0.2703, -0.047), (0.3296, -0.122),
]

y_top_ticks = [38, 40, 42]
y_top_labels = ["38", "40", "42"]
y_bot_ticks = [-0.2, -0.1, 0.0, 0.1, 0.2]
y_bot_labels = ["\u22120.2", "\u22120.1", "0.0", "0.1", "0.2"]
x_ticks = [0.1, 0.2, 0.3, 0.4, 0.5, 0.6]
x_labels = ["0.1", "0.2", "0.3", "0.4", "0.5", "0.6"]

# ---------------- figure ----------------
top_pts = top_outliers + top_band_a + top_band_b + top_band_c + top_band_d + top_band_e
res_pts = res_lowz + res_z12 + res_core + res_z23_pos + res_z23_neg + res_z34 + res_z45 + res_highz
top_z = [p[0] for p in top_pts]
top_mu = [p[1] for p in top_pts]
res_z = [p[0] for p in res_pts]
res_r = [p[1] for p in res_pts]

GRAY_FILL = "#d0d0d0"
GRAY_EDGE = "#858585"
GREEN = "#33cc33"
RED = "#ff2a2a"
NAVY = "#000080"
DASHDOT = "9px,3px,2px,3px"

fig = go.Figure()
pt_marker = dict(size=8, color=GRAY_FILL, line=dict(color=GRAY_EDGE, width=1))

fig.add_trace(go.Scatter(x=top_z, y=top_mu, mode="markers", marker=pt_marker,
                         name="Amalgame", legendgroup="a", xaxis="x", yaxis="y"))
fig.add_trace(go.Scatter(x=curve_z, y=mu_empirical, mode="lines", line_shape="spline",
                         line=dict(color="black", width=4.5), name="Empirical",
                         legendgroup="b", xaxis="x", yaxis="y"))
fig.add_trace(go.Scatter(x=curve_z, y=mu_lcdm, mode="lines", line_shape="spline",
                         line=dict(color=GREEN, width=2.5, dash=DASHDOT),
                         name="Flat \u039bCDM", legendgroup="c", xaxis="x", yaxis="y"))
fig.add_trace(go.Scatter(x=curve_z, y=mu_pade, mode="lines", line_shape="spline",
                         line=dict(color=RED, width=1.3), name="Flat Pad\u00e9",
                         legendgroup="d", xaxis="x", yaxis="y"))

fig.add_trace(go.Scatter(x=res_z, y=res_r, mode="markers", marker=pt_marker,
                         showlegend=False, xaxis="x2", yaxis="y2"))
fig.add_trace(go.Scatter(x=resid_zero_z, y=resid_zero_r, mode="lines",
                         line=dict(color="black", width=4), showlegend=False,
                         xaxis="x2", yaxis="y2"))
fig.add_trace(go.Scatter(x=resid_model_z, y=resid_lcdm_r, mode="lines",
                         line=dict(color=GREEN, width=2.5, dash=DASHDOT),
                         showlegend=False, xaxis="x2", yaxis="y2"))
fig.add_trace(go.Scatter(x=resid_model_z, y=resid_pade_r, mode="lines",
                         line=dict(color=RED, width=1.3), showlegend=False,
                         xaxis="x2", yaxis="y2"))
fig.add_trace(go.Scatter(x=bin_z[:-1], y=bin_r[:-1], mode="markers",
                         marker=dict(symbol="square", size=12, color=NAVY),
                         error_y=dict(type="data", array=bin_err[:-1], color=NAVY,
                                      thickness=1.5, width=0),
                         showlegend=False, xaxis="x2", yaxis="y2"))
fig.add_trace(go.Scatter(x=bin_z[-1:], y=bin_r[-1:], mode="markers",
                         marker=dict(symbol="square", size=12, color=NAVY),
                         error_y=dict(type="data", array=bin_err[-1:], color="#6666b3",
                                      thickness=1.5, width=0),
                         showlegend=False, xaxis="x2", yaxis="y2"))

SERIF = "DejaVu Serif"
SANS = "DejaVu Sans"
split = 0.5027

common_x = dict(range=[0.0553, 0.6855], showline=True, linecolor="black", linewidth=2,
                mirror="allticks", ticks="inside", ticklen=5, tickwidth=1, tickcolor="black",
                tickvals=x_ticks, showgrid=False, zeroline=False,
                minor=dict(ticks="inside", ticklen=3, tickwidth=1, tickcolor="black",
                           dtick=0.02, tick0=0, showgrid=False))
common_y = dict(showline=True, linecolor="black", linewidth=2, mirror="allticks",
                ticks="inside", ticklen=5, tickwidth=1, tickcolor="black",
                showgrid=False, zeroline=False,
                tickfont=dict(family=SERIF, size=18, color="black"))

fig.update_layout(
    width=660, height=627,
    margin=dict(l=94, r=2, t=2, b=62),
    paper_bgcolor="white", plot_bgcolor="white",
    xaxis=dict(**common_x, anchor="y", domain=[0, 1], showticklabels=False),
    xaxis2=dict(**common_x, anchor="y2", domain=[0, 1], matches="x",
                ticktext=x_labels, tickfont=dict(family=SERIF, size=18, color="black"),
                title=dict(text="<i>z</i>", font=dict(family=SERIF, size=20, color="black"),
                           standoff=10)),
    yaxis=dict(**common_y, anchor="x", domain=[split, 1], range=[36.91, 43.43],
               tickvals=y_top_ticks, ticktext=y_top_labels,
               minor=dict(ticks="inside", ticklen=3, tickwidth=1, tickcolor="black",
                          dtick=0.5, tick0=0, showgrid=False),
               title=dict(text="Distance modulus <i>\u03bc</i>",
                          font=dict(family=SANS, size=19, color="black"), standoff=8)),
    yaxis2=dict(**common_y, anchor="x2", domain=[0, split], range=[-0.290, 0.2934],
                tickvals=y_bot_ticks, ticktext=y_bot_labels,
                minor=dict(ticks="inside", ticklen=3, tickwidth=1, tickcolor="black",
                           dtick=0.02, tick0=0, showgrid=False),
                title=dict(text="Residuals", font=dict(family=SANS, size=19, color="black"),
                           standoff=8)),
    legend=dict(x=0.684, y=0.746, xanchor="left", yanchor="top",
                bgcolor="rgba(255,255,255,0.85)", bordercolor="#cccccc", borderwidth=1.5,
                font=dict(family=SANS, size=19, color="black"),
                traceorder="grouped", tracegroupgap=0, itemwidth=36),
    showlegend=True,
)

fig.write_html("out.html")
